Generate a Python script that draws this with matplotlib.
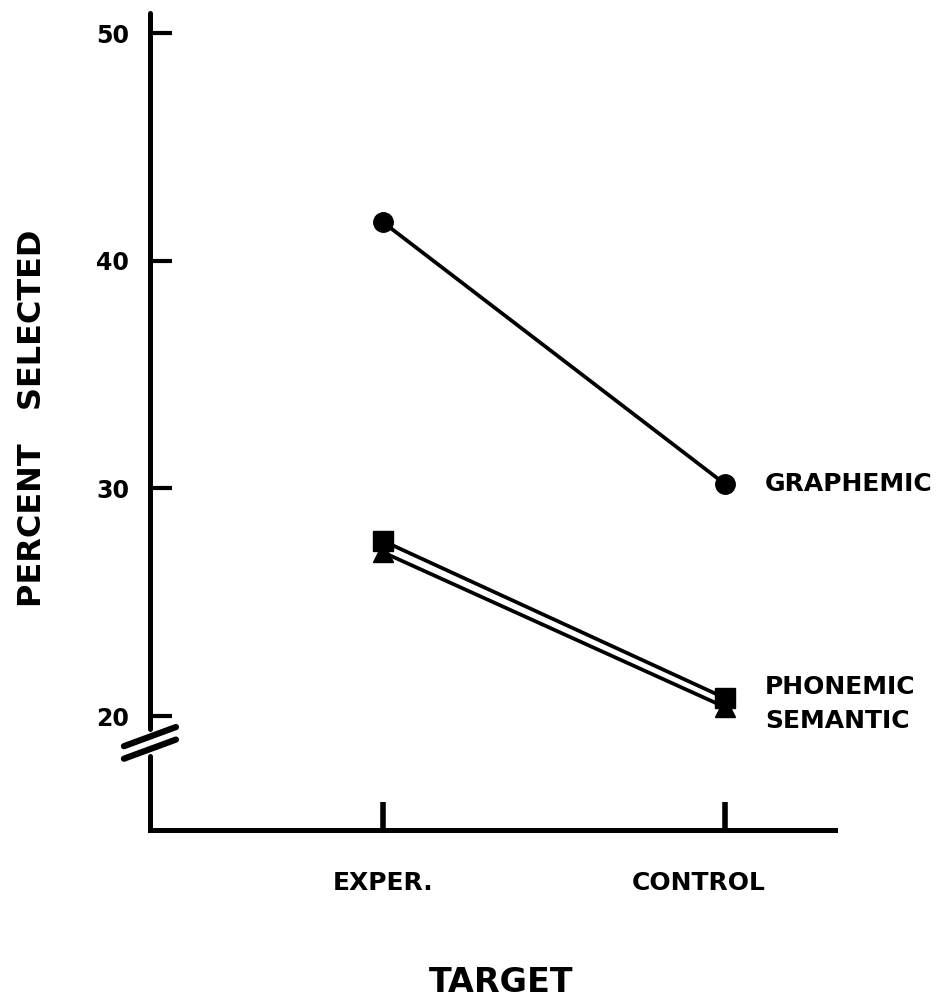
import numpy as np
import matplotlib.pyplot as plt

targets = ["EXPER.", "CONTROL"]
graphemic = [41.7, 30.2]
phonemic = [27.7, 20.8]
semantic = [27.2, 20.4]
yticks = [20, 30, 40, 50]

plt.rcParams['font.family'] = ['DejaVu Sans']
plt.rcParams['font.weight'] = 'bold'

fig = plt.figure(figsize=(9.43, 10.07), dpi=100)
ax = fig.add_axes([0.159, 0.1758, 0.7264, 0.8112])

x = np.arange(len(targets))
ax.plot(x, graphemic, color='black', lw=2.7, marker='o', ms=14)
ax.plot(x, phonemic, color='black', lw=2.7, marker='s', ms=14)
ax.plot(x, semantic, color='black', lw=2.7, marker='^', ms=14)

ax.set_xlim(-0.681, 1.322)
ax.set_ylim(15, 50.88)

for s in ['top', 'right', 'left']:
    ax.spines[s].set_visible(False)
ax.spines['bottom'].set_linewidth(3.6)

# broken y axis drawn by hand
x0 = -0.681
ax.plot([x0, x0], [15, 18.25], color='black', lw=3.6, clip_on=False, solid_capstyle='round')
ax.plot([x0, x0], [19.45, 50.88], color='black', lw=3.6, clip_on=False, solid_capstyle='round')
dx = 26 / 342
for yc in [19.1, 18.55]:
    ax.plot([x0 - dx, x0 + dx], [yc - 0.42, yc + 0.42], color='black', lw=4.5,
            clip_on=False, solid_capstyle='round')

ax.set_yticks(yticks)
ax.set_yticklabels([str(v) for v in yticks], fontsize=17, fontweight='bold')
ax.tick_params(axis='y', direction='in', length=16, width=3, pad=15)
ax.set_xticks(x)
ax.set_xticklabels([])
ax.tick_params(axis='x', direction='in', length=20, width=4)

# category names under the axis (CONTROL sits a little left of its tick)
for xi, name, shift in zip(x, targets, [0, -26]):
    ax.annotate(name, xy=(xi, 15), xytext=(shift, -53), textcoords='offset pixels',
                fontsize=18, fontweight='bold', ha='center', va='center')

ax.text(1.117, graphemic[1], "GRAPHEMIC", fontsize=18, fontweight='bold', va='center')
ax.text(1.117, 21.27, "PHONEMIC", fontsize=18, fontweight='bold', va='center')
ax.text(1.117, 19.78, "SEMANTIC", fontsize=18, fontweight='bold', va='center')

fig.text(501 / 943, 1 - 983 / 1007, "TARGET", fontsize=24, fontweight='bold',
         ha='center', va='center')
fig.text(33 / 943, 1 - 418 / 1007, "PERCENT   SELECTED", fontsize=23, fontweight='bold',
         ha='center', va='center', rotation=90)

fig.savefig("out.png", dpi=100)
